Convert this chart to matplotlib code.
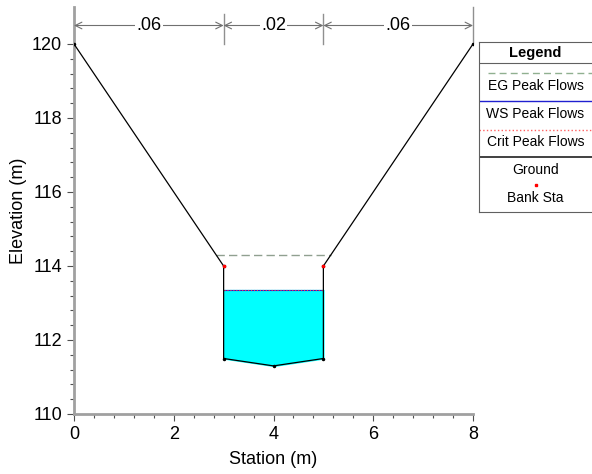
import numpy as np
import matplotlib.pyplot as plt

plt.rcParams['font.family'] = ['Liberation Sans', 'DejaVu Sans']

# cross section data
station = np.array([0, 3, 3, 4, 5, 5, 8])
elev = np.array([120, 114, 111.5, 111.3, 111.5, 114, 120])
bank_sta = [3, 5]
bank_elev = [114, 114]
ws_elev = 113.35
crit_elev = 113.35
eg_elev = 114.3
n_breaks = [0, 3, 5, 8]
n_values = ['.06', '.02', '.06']

fig = plt.figure(figsize=(5.92, 4.74), dpi=100)
ax = fig.add_axes([74/592, 60/474, 399/592, 407/474])

# water fill inside the main channel
ch = slice(2, 5)
ax.fill_between(station[ch], elev[ch], ws_elev, color='#00ffff', zorder=1)

# energy grade line, meets ground on both banks
xl = np.interp(eg_elev, elev[1::-1], station[1::-1])
xr = np.interp(eg_elev, elev[5:], station[5:])
ax.plot([xl, xr], [eg_elev, eg_elev], color='#90a090', lw=1, dashes=(6, 3), zorder=2)
ax.plot([bank_sta[0], bank_sta[1]], [ws_elev, ws_elev], color='#2020d0', lw=0.8, zorder=3)
ax.plot([bank_sta[0], bank_sta[1]], [crit_elev, crit_elev], color='#ff4040', lw=0.8, ls=':', zorder=3)
ax.plot(station, elev, color='black', lw=0.9, zorder=4)
ax.plot(station, elev, 'o', color='black', ms=1.5, zorder=4)
ax.plot(bank_sta, bank_elev, 's', color='red', ms=2, zorder=5)

# n-value zones
ytop = 120.5
for i, lab in enumerate(n_values):
    x0, x1 = n_breaks[i], n_breaks[i + 1]
    ax.annotate('', xy=(x0, ytop), xytext=(x1, ytop),
                arrowprops=dict(arrowstyle='<->', color='#707070', lw=0.8,
                                shrinkA=0, shrinkB=0, mutation_scale=12))
    ax.text((x0 + x1) / 2, ytop, lab, ha='center', va='center', fontsize=13,
            bbox=dict(facecolor='white', edgecolor='none', pad=1))
for xb in n_breaks[1:]:
    top = 121 if xb == n_breaks[-1] else 120.8
    ax.plot([xb, xb], [120, top], color='#909090', lw=1, clip_on=False)

ax.set_xlim(0, 8)
ax.set_ylim(110, 121)
ax.set_xticks([0, 2, 4, 6, 8])
ax.set_yticks([110, 112, 114, 116, 118, 120])
ax.set_xticks(np.arange(0, 8.01, 0.4), minor=True)
ax.set_yticks(np.arange(110, 120.01, 0.4), minor=True)
ax.tick_params(labelsize=13, color='#505050', length=5, width=0.8)
ax.tick_params(which='minor', length=3, color='#505050', width=0.8)
for s in ['top', 'right']:
    ax.spines[s].set_visible(False)
for s in ['left', 'bottom']:
    ax.spines[s].set_color('#a0a0a0')
    ax.spines[s].set_linewidth(2)
ax.set_xlabel('Station (m)', fontsize=13, labelpad=6)
ax.set_ylabel('Elevation (m)', fontsize=13, labelpad=4)

# legend panel
lg = fig.add_axes([479/592, (474-212)/474, 1 - 479/592, 170/474])
lg.set_xlim(0, 1)
lg.set_ylim(170, 0)
lg.set_xticks([])
lg.set_yticks([])
lg.spines['right'].set_visible(False)
for s in ['left', 'top', 'bottom']:
    lg.spines[s].set_color('#606060')
lg.text(0.5, 11, 'Legend', ha='center', va='center', fontsize=10.5, weight='bold')
lg.plot([0, 1], [21, 21], color='#606060', lw=0.8)
lg.plot([0.08, 1], [31, 31], color='#90b090', lw=1, dashes=(5, 3))
lg.text(0.5, 44, 'EG Peak Flows', ha='center', va='center', fontsize=10)
lg.plot([0, 1], [59, 59], color='#2020d0', lw=1)
lg.text(0.5, 72, 'WS Peak Flows', ha='center', va='center', fontsize=10)
lg.plot([0, 1], [88, 88], color='#ff6060', lw=1, ls=':')
lg.text(0.5, 100, 'Crit Peak Flows', ha='center', va='center', fontsize=10)
lg.plot([0, 1], [115, 115], color='#202020', lw=1.2)
lg.text(0.5, 128, 'Ground', ha='center', va='center', fontsize=10)
lg.plot([0.5], [143], 's', color='red', ms=2)
lg.text(0.5, 156, 'Bank Sta', ha='center', va='center', fontsize=10)

fig.savefig('out.png', dpi=100)
